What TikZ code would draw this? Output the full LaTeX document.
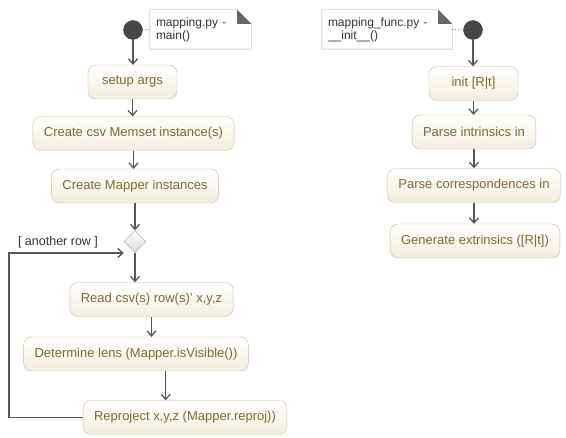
\documentclass[tikz,border=0pt]{standalone}
\usepackage{fontspec}
\setmainfont{Liberation Sans}
\usetikzlibrary{arrows.meta,calc,shapes.geometric}
\definecolor{actfill}{HTML}{F3EDDD}
\definecolor{actline}{HTML}{CBBD95}
\definecolor{acttext}{HTML}{7D6930}
\definecolor{flowgray}{HTML}{555555}
\tikzset{
	action/.style={draw=actline, top color=white, bottom color=actfill, rounded corners=8pt, text=acttext, minimum width=89pt, minimum height=34pt, inner xsep=11pt, font=\fontsize{13}{15}\selectfont},
	flow/.style={draw=flowgray, line width=1.3pt, -{Straight Barb[length=5pt,width=9pt]}},
	initial/.style={circle, draw=black!75, fill=black!72, minimum size=19pt, inner sep=0pt},
	note/.style={text width=#1, inner xsep=6pt, minimum height=39pt, align=left, text=black!80, font=\fontsize{12}{13}\selectfont},
	branch/.style={diamond, draw=black!40, top color=white, bottom color=black!15, minimum size=22pt, inner sep=0pt}
}
\def\foldnote(#1)(#2){\draw[black!35] (#1.south west) -- (#1.north west) -- ([xshift=-#2]#1.north east) -- ([yshift=-#2]#1.north east) -- (#1.south east) -- cycle; \fill[black!60] ([xshift=-#2]#1.north east) -- ([xshift=-#2,yshift=-#2]#1.north east) -- ([yshift=-#2]#1.north east) -- cycle;}

\begin{document}
\begin{tikzpicture}[x=1pt,y=-1pt]
		%%%%% START %%%%%
		\useasboundingbox[fill=white] (0,0) rectangle (566,438);
		
		\node[initial] (start1) at (133,30) {};
		\node[note=89pt] (n1) at (200.5,29.5) {mapping.py -\\main()};
		\foldnote(n1)(14pt)
		\draw[black!55, dotted, line width=0.8pt] (start1) -- (n1.west);
		
		\node[action] (setup) at (132.5,82) {setup args};
		\node[action] (memset) at (133.5,133.5) {Create csv Memset instance(s)};
		\node[action] (mapper) at (135,186) {Create Mapper instances};
		\node[branch] (dia) at (135,241.5) {};
		\node[action] (read) at (151.5,299.5) {Read csv(s) row(s)' x,y,z};
		\node[action] (det) at (136,354) {Determine lens (Mapper.isVisible())};
		\node[action] (rep) at (185,417.5) {Reproject x,y,z (Mapper.reproj))};
		
		\draw[flow] (start1.south) -- (start1.south |- setup.north);
		\draw[flow] (setup.south) -- (setup.south |- memset.north);
		\draw[flow] (memset.south) -- (memset.south |- mapper.north);
		\draw[flow] (mapper.south -| dia) -- (dia.north);
		\draw[flow] (dia.south) -- (dia.south |- read.north);
		\draw[flow] (read.south) -- (read.south |- det.north);
		\coordinate (mid) at ($(det.south east)!.5!(rep.north west)$);
		\draw[flow] (det.south -| mid) -- (rep.north -| mid);
		
		\coordinate (back) at (9,253);
		\draw[flow] (rep.west) -| (back) -- (back -| dia.west);
		\node[text=black!80, font=\fontsize{12.5}{14}\selectfont] (another) at (58,242) {[ another row ]};
		
		\node[initial] (start2) at (473,30) {};
		\node[note=118pt] (n2) at (387,29.5) {mapping\_func.py -\\\_\_init\_\_()};
		\foldnote(n2)(14pt)
		\draw[black!55, dotted, line width=0.8pt] (n2.east) -- (start2);
		
		\node[action] (init) at (473.5,83.5) {init [R|t]};
		\node[action] (intr) at (474,132) {Parse intrinsics in};
		\node[action] (corr) at (474,185.5) {Parse correspondences in};
		\node[action] (gen) at (475,241) {Generate extrinsics ([R|t])};
		
		\draw[flow] (start2.south) -- (start2.south |- init.north);
		\draw[flow] (init.south) -- (init.south |- intr.north);
		\draw[flow] (intr.south) -- (intr.south |- corr.north);
		\draw[flow] (corr.south) -- (corr.south |- gen.north);
		
		%%%%% END %%%%%
\end{tikzpicture}
\end{document}
